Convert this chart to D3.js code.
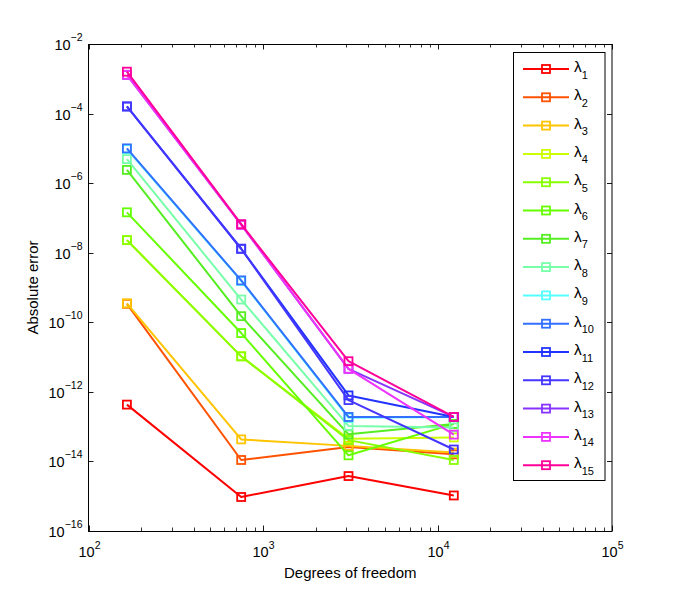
<!DOCTYPE html>
<html>
<head>
<meta charset="utf-8">
<script src="https://cdnjs.cloudflare.com/ajax/libs/d3/7.8.5/d3.min.js"></script>
<style>
  body { margin: 0; background: #fff; }
  svg { display: block; font-family: "Liberation Sans", Arial, sans-serif; }
</style>
</head>
<body>
<div id="chart"></div>
<script>
// grados de libertad (eje x)
const dofs = [166, 750, 3090, 12400];

const seriesNames = ['1','2','3','4','5','6','7','8','9','10','11','12','13','14','15'];

const seriesColors = [
  '#ff0000', '#ff5200', '#ffc400', '#ccff00', '#88ff00',
  '#66ff00', '#55ee22', '#77ffaa', '#55ffff', '#3370ff',
  '#2233ff', '#4436ff', '#8833ff', '#ee33ff', '#ff0099'
];

// error absoluto por autovalor, una fila por serie
const errors = [
  [4.3e-13, 9.5e-16, 3.8e-15, 1.05e-15],
  [3.4e-10, 1.1e-14, 2.6e-14, 1.6e-14],
  [3.5e-10, 4.3e-14, 2.8e-14, 1.8e-14],
  [2.3e-8,  1.05e-11, 4.5e-14, 4.9e-14],
  [2.3e-8,  1.05e-11, 4.1e-14, 1.1e-14],
  [1.45e-7, 4.9e-11, 1.5e-14, 1.2e-13],
  [2.4e-6,  1.5e-10, 6.0e-14, 1.2e-13],
  [4.9e-6,  4.5e-10, 1.05e-13, 9.5e-14],
  [9.5e-6,  1.55e-9, 1.8e-13, 1.9e-13],
  [1.0e-5,  1.6e-9,  1.9e-13, 1.9e-13],
  [1.6e-4,  1.3e-8,  7.9e-13, 1.9e-13],
  [1.6e-4,  1.3e-8,  5.8e-13, 2.2e-14],
  [1.3e-3,  6.4e-8,  4.6e-12, 1.9e-13],
  [1.3e-3,  6.4e-8,  4.6e-12, 5.9e-14],
  [1.6e-3,  6.6e-8,  7.6e-12, 1.9e-13]
];

const xTickExps = [2, 3, 4, 5];
const yTickExps = [-2, -4, -6, -8, -10, -12, -14, -16];

const W = 676, H = 598;
const pLeft = 88.5, pRight = 612, pTop = 44, pBottom = 531;

const svg = d3.select('#chart').append('svg')
  .attr('width', W).attr('height', H);

const x = d3.scaleLog().domain([1e2, 1e5]).range([pLeft, pRight]);
const y = d3.scaleLog().domain([1e-16, 1e-2]).range([pBottom, pTop]);

const g = svg.append('g');

// ticks: x menores y mayores, arriba y abajo
const xMinor = [];
for (let e = 2; e < 5; e++) for (let k = 2; k <= 9; k++) xMinor.push(k * Math.pow(10, e));

xMinor.forEach(v => {
  const px = Math.round(x(v)) + 0.5;
  g.append('line').attr('x1', px).attr('x2', px).attr('y1', pBottom).attr('y2', pBottom - 3.5)
    .attr('stroke', '#000').attr('stroke-width', 0.8);
  g.append('line').attr('x1', px).attr('x2', px).attr('y1', pTop).attr('y2', pTop + 3.5)
    .attr('stroke', '#000').attr('stroke-width', 0.8);
});

xTickExps.forEach(e => {
  const px = Math.round(x(Math.pow(10, e))) + 0.5;
  g.append('line').attr('x1', px).attr('x2', px).attr('y1', pBottom).attr('y2', pBottom - 5.5)
    .attr('stroke', '#000').attr('stroke-width', 0.9);
  g.append('line').attr('x1', px).attr('x2', px).attr('y1', pTop).attr('y2', pTop + 5.5)
    .attr('stroke', '#000').attr('stroke-width', 0.9);

  const t = g.append('text')
    .attr('x', px).attr('y', pBottom + 25.5)
    .attr('text-anchor', 'middle')
    .style('font-size', '14.5px').style('fill', '#000');
  t.append('tspan').text('10');
  t.append('tspan').attr('dy', -7.5).style('font-size', '10.5px').text(e);
});

yTickExps.forEach(e => {
  const py = Math.round(y(Math.pow(10, e))) + 0.5;
  g.append('line').attr('x1', pLeft).attr('x2', pLeft + 5).attr('y1', py).attr('y2', py)
    .attr('stroke', '#000').attr('stroke-width', 0.9);
  g.append('line').attr('x1', pRight).attr('x2', pRight - 5).attr('y1', py).attr('y2', py)
    .attr('stroke', '#000').attr('stroke-width', 0.9);

  const t = g.append('text')
    .attr('x', 82.5).attr('y', py + 5.5)
    .attr('text-anchor', 'end')
    .style('font-size', '14.5px').style('fill', '#000');
  t.append('tspan').text('10');
  t.append('tspan').attr('dy', -9).style('font-size', '10.5px').text('\u2212' + Math.abs(e));
});

// caja de ejes
g.append('rect')
  .attr('x', pLeft).attr('y', pTop + 0.5)
  .attr('width', pRight - pLeft).attr('height', pBottom - pTop)
  .attr('fill', 'none').attr('stroke', '#000').attr('stroke-width', 1);

// series
const line = d3.line()
  .x((d, i) => x(dofs[i]))
  .y(d => y(d));

errors.forEach((vals, s) => {
  const color = seriesColors[s];
  g.append('path')
    .attr('d', line(vals))
    .attr('fill', 'none').attr('stroke', color)
    .attr('stroke-width', 2).attr('stroke-linejoin', 'round');

  g.selectAll(null).data(vals).join('rect')
    .attr('x', (d, i) => x(dofs[i]) - 4)
    .attr('y', d => y(d) - 4)
    .attr('width', 8).attr('height', 8)
    .attr('fill', 'none').attr('stroke', color).attr('stroke-width', 1.8);
});

// etiquetas de ejes
svg.append('text')
  .attr('x', (pLeft + pRight) / 2).attr('y', pBottom + 47)
  .attr('text-anchor', 'middle')
  .style('font-size', '15px')
  .text('Degrees of freedom');

svg.append('text')
  .attr('transform', `translate(38,${(pTop + pBottom) / 2}) rotate(-90)`)
  .attr('text-anchor', 'middle')
  .style('font-size', '15px')
  .text('Absolute error');

// leyenda
const legX = 513, legY = 52, legW = 91.5, legH = 428, legStep = 28.3;

const leg = svg.append('g');
leg.append('rect')
  .attr('x', legX + 0.5).attr('y', legY + 0.5)
  .attr('width', legW).attr('height', legH)
  .attr('fill', '#fff').attr('stroke', '#000').attr('stroke-width', 1);

seriesNames.forEach((name, i) => {
  const cy = legY + 17 + i * legStep;
  const color = seriesColors[i];
  leg.append('line')
    .attr('x1', legX + 10).attr('x2', legX + 56)
    .attr('y1', cy).attr('y2', cy)
    .attr('stroke', color).attr('stroke-width', 2);
  leg.append('rect')
    .attr('x', legX + 33 - 4).attr('y', cy - 4)
    .attr('width', 8).attr('height', 8)
    .attr('fill', 'none').attr('stroke', color).attr('stroke-width', 1.8);
  const t = leg.append('text')
    .attr('x', legX + 61).attr('y', cy + 3)
    .style('font-size', '15.5px');
  t.append('tspan').text('\u03bb');
  t.append('tspan').attr('dy', 6.5).style('font-size', '11px').text(name);
});
</script>
</body>
</html>
